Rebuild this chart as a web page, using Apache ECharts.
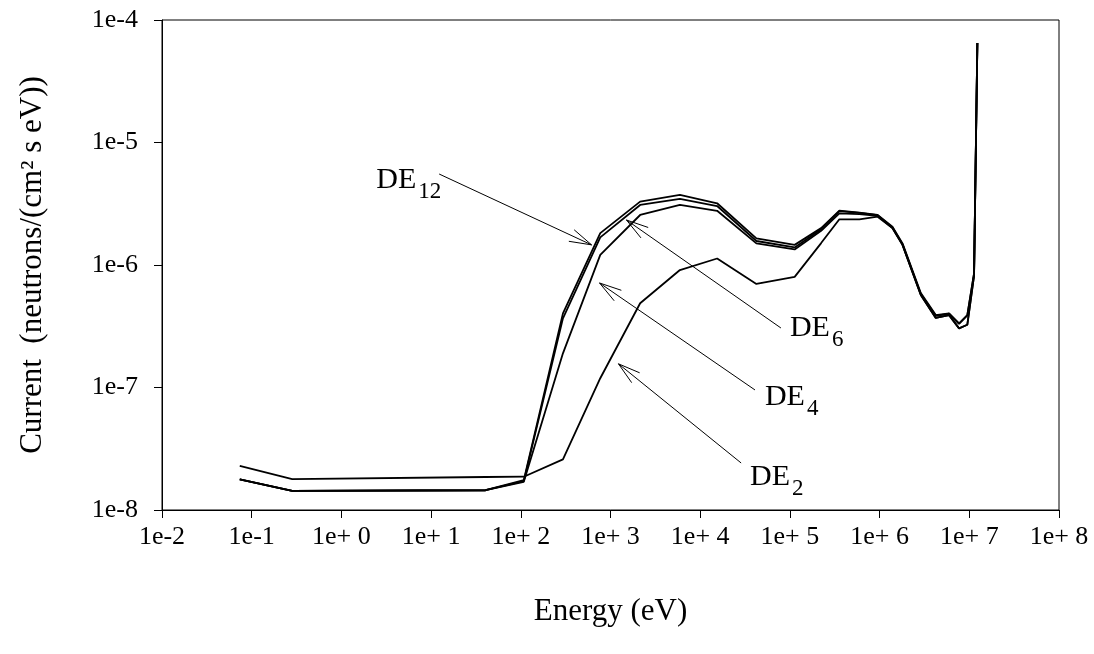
<!DOCTYPE html>
<html><head><meta charset="utf-8">
<script src="https://cdn.jsdelivr.net/npm/echarts@6/dist/echarts.min.js"></script>
<style>html,body{margin:0;padding:0;background:#fff}#c{width:1094px;height:654px}</style>
</head><body><div id="c"></div>
<script>
// Energy group points (eV)
const energy = [0.0736, 0.283, 40.5, 108, 295, 769, 2140, 5940, 15450, 42300, 113000, 223000, 356000, 595000, 950000, 1390000, 1800000, 2880000, 4230000, 5950000, 7690000, 9500000, 11300000, 12300000];
// Current values (neutrons/(cm^2 s eV))
const de12 = [1.78e-8, 1.43e-8, 1.45e-8, 1.75e-8, 4.03e-7, 1.82e-6, 3.29e-6, 3.73e-6, 3.19e-6, 1.65e-6, 1.46e-6, 2.0e-6, 2.78e-6, 2.68e-6, 2.56e-6, 2.05e-6, 1.50e-6, 5.9e-7, 3.9e-7, 4.03e-7, 3.34e-7, 3.9e-7, 8.6e-7, 6.5e-5];
const de6  = [1.78e-8, 1.43e-8, 1.45e-8, 1.72e-8, 3.67e-7, 1.68e-6, 3.09e-6, 3.46e-6, 3.03e-6, 1.57e-6, 1.39e-6, 1.96e-6, 2.75e-6, 2.66e-6, 2.55e-6, 2.03e-6, 1.48e-6, 5.8e-7, 3.85e-7, 4.0e-7, 3.3e-7, 3.88e-7, 8.5e-7, 6.5e-5];
const de4  = [1.78e-8, 1.43e-8, 1.45e-8, 1.70e-8, 1.90e-7, 1.21e-6, 2.56e-6, 3.09e-6, 2.77e-6, 1.50e-6, 1.34e-6, 1.9e-6, 2.64e-6, 2.6e-6, 2.52e-6, 2.0e-6, 1.46e-6, 5.7e-7, 3.7e-7, 3.9e-7, 3.04e-7, 3.25e-7, 8.2e-7, 6.5e-5];
const de2  = [2.29e-8, 1.79e-8, 1.86e-8, 1.87e-8, 2.59e-8, 1.19e-7, 4.87e-7, 9.1e-7, 1.13e-6, 7.0e-7, 8.0e-7, 1.51e-6, 2.36e-6, 2.36e-6, 2.48e-6, 2.0e-6, 1.46e-6, 5.7e-7, 3.7e-7, 3.9e-7, 3.04e-7, 3.25e-7, 8.2e-7, 6.5e-5];
const seriesNames = ['DE12', 'DE6', 'DE4', 'DE2'];
const subscripts = ['12', '6', '4', '2'];
// Tick labels
const xTickLabels = ['1e-2','1e-1','1e+ 0','1e+ 1','1e+ 2','1e+ 3','1e+ 4','1e+ 5','1e+ 6','1e+ 7','1e+ 8'];
const yTickLabels = ['1e-8','1e-7','1e-6','1e-5','1e-4'];
// Annotation anchors in data coordinates: label point, arrow start, arrow tip
const labelAt  = [[2.45, 4.94e-6], [1.0e5, 3.06e-7], [5.27e4, 8.36e-8], [3.6e4, 1.86e-8]];
const arrowFrom = [[12.3, 5.53e-6], [7.94e4, 3.06e-7], [4.08e4, 9.55e-8], [2.86e4, 2.42e-8]];
const arrowTo   = [[615, 1.46e-6], [1506, 2.33e-6], [755, 7.13e-7], [1227, 1.56e-7]];

const FONT = '"Liberation Serif", "Times New Roman", serif';
const pair = (ys) => energy.map((e, i) => [e, ys[i]]);

const chart = echarts.init(document.getElementById('c'), null, {renderer: 'canvas'});
const lineStyle = {color: '#000', width: 1.8};
const seriesData = [de12, de6, de4, de2];
const series = seriesData.map((ys, i) => ({
  name: seriesNames[i], type: 'line', data: pair(ys), symbol: 'none',
  lineStyle: lineStyle, itemStyle: {color: '#000'}, silent: true, z: 3
}));
series[0].markLine = {
  silent: true, symbol: ['none', 'none'],
  lineStyle: {color: '#000', width: 1, type: 'solid'}, label: {show: false},
  emphasis: {disabled: true},
  data: arrowFrom.map((f, i) => [{coord: f}, {coord: arrowTo[i]}])
};
series[0].markPoint = {
  silent: true, symbol: 'circle', symbolSize: 0,
  label: {show: true, position: 'right', distance: 0, color: '#000',
    fontFamily: FONT, fontSize: 30, formatter: 'DE'},
  data: labelAt.map(c => ({coord: c}))
};
series[1].markPoint = {
  silent: true, symbol: 'circle', symbolSize: 0,
  label: {show: true, position: 'right', distance: 0, offset: [42, 12], color: '#000',
    fontFamily: FONT, fontSize: 23, formatter: (p) => subscripts[p.dataIndex]},
  data: labelAt.map(c => ({coord: c}))
};

chart.setOption({
  animation: false,
  backgroundColor: '#fff',
  grid: {left: 162, right: 35, top: 20, bottom: 144, show: true, borderColor: '#000', borderWidth: 1},
  xAxis: {
    type: 'log', logBase: 10, min: 0.01, max: 1e8, interval: 1, splitNumber: 10,
    name: 'Energy (eV)', nameLocation: 'middle', nameGap: 86,
    nameTextStyle: {fontFamily: FONT, fontSize: 31, color: '#000'},
    axisLine: {lineStyle: {color: '#000', width: 1}},
    axisTick: {show: true, inside: false, length: 8, lineStyle: {color: '#000'}},
    minorTick: {show: false}, splitLine: {show: false},
    axisLabel: {fontFamily: FONT, fontSize: 26, color: '#000', margin: 14,
      formatter: (v) => xTickLabels[Math.round(Math.log10(v)) + 2]}
  },
  yAxis: {
    type: 'log', logBase: 10, min: 1e-8, max: 1e-4, interval: 1, splitNumber: 4,
    name: 'Current  (neutrons/(cm² s eV))', nameLocation: 'middle', nameGap: 114, nameRotate: 90,
    nameTextStyle: {fontFamily: FONT, fontSize: 31, color: '#000'},
    axisLine: {lineStyle: {color: '#000', width: 1}},
    axisTick: {show: true, inside: false, length: 8, lineStyle: {color: '#000'}},
    minorTick: {show: false}, splitLine: {show: false},
    axisLabel: {fontFamily: FONT, fontSize: 26, color: '#000', margin: 24,
      formatter: (v) => yTickLabels[Math.round(Math.log10(v)) + 8]}
  },
  series: series
});

// Open V arrowheads at the arrow tips, placed through the chart's own axis scales
const heads = arrowFrom.map((f, i) => {
  const a = chart.convertToPixel({gridIndex: 0}, f);
  const b = chart.convertToPixel({gridIndex: 0}, arrowTo[i]);
  const dx = b[0] - a[0], dy = b[1] - a[1];
  const len = Math.hypot(dx, dy), ux = dx / len, uy = dy / len;
  const L = 23, ang = 16 * Math.PI / 180;
  const arm = (s) => {
    const c = Math.cos(s * ang), sn = Math.sin(s * ang);
    const rx = -(ux * c - uy * sn), ry = -(ux * sn + uy * c);
    return [b[0] + L * rx, b[1] + L * ry];
  };
  return {type: 'polyline', silent: true, z: 10,
    shape: {points: [arm(1), b, arm(-1)]},
    style: {stroke: '#000', lineWidth: 1, fill: null}};
});
chart.setOption({graphic: heads});
</script>
</body></html>
